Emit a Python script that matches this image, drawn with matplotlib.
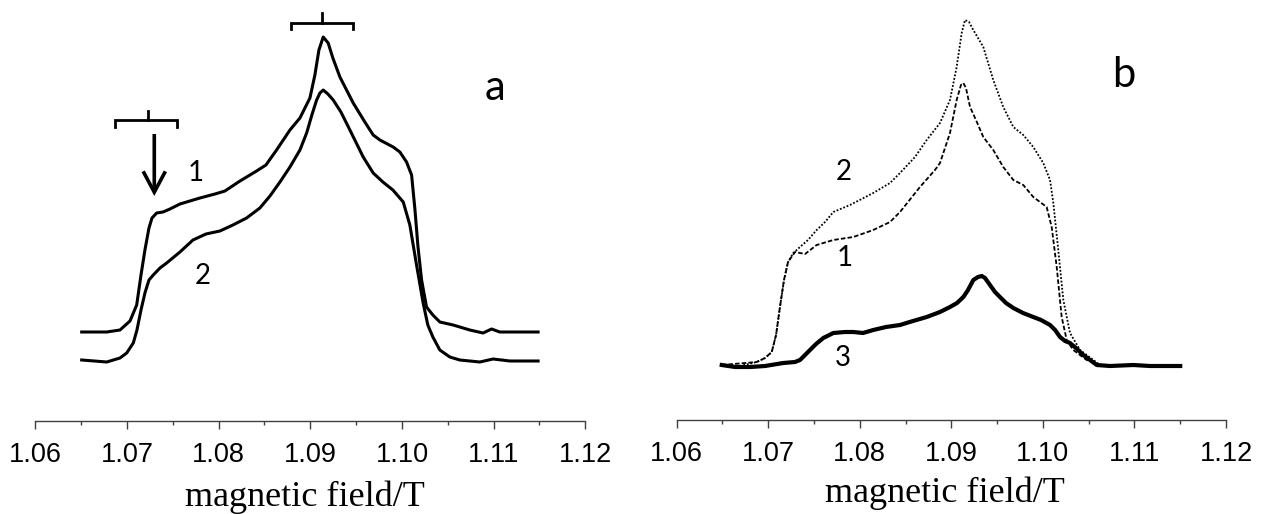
import matplotlib
matplotlib.use("Agg")
import matplotlib.pyplot as plt
import numpy as np

# ---------------- data (magnetic field / T, intensity a.u.) ----------------
a1_field = [1.06506, 1.06779, 1.06924, 1.07033, 1.07106, 1.07153, 1.07196, 1.07240,
            1.07273, 1.07324, 1.07393, 1.07469, 1.07578, 1.07796, 1.07960, 1.08069,
            1.08233, 1.08414, 1.08516, 1.08632, 1.08778, 1.08887, 1.08996, 1.09050,
            1.09094, 1.09141, 1.09195, 1.09246, 1.09323, 1.09468, 1.09595, 1.09686,
            1.09759, 1.09904, 1.09977, 1.10050, 1.10105, 1.10141, 1.10174, 1.10214,
            1.10268, 1.10337, 1.10413, 1.10558, 1.10740, 1.10885, 1.10977, 1.11067,
            1.11286, 1.11485]
a1_int = [89, 89, 91, 100, 116, 146, 171, 193,
          203, 208, 209, 212, 217, 223, 227, 230,
          240, 250, 256, 271, 291, 303, 323, 346,
          371, 384, 378, 363, 344, 318, 299, 286,
          281, 274, 269, 259, 246, 212, 175, 141,
          114, 106, 99, 96, 91, 88, 92, 89,
          89, 89]

a2_field = [1.06506, 1.06779, 1.06924, 1.06997, 1.07069, 1.07109, 1.07153, 1.07196,
            1.07240, 1.07287, 1.07360, 1.07433, 1.07578, 1.07720, 1.07862, 1.08014,
            1.08156, 1.08305, 1.08450, 1.08560, 1.08669, 1.08778, 1.08887, 1.08960,
            1.09017, 1.09069, 1.09105, 1.09141, 1.09192, 1.09250, 1.09334, 1.09432,
            1.09577, 1.09686, 1.09792, 1.09901, 1.10014, 1.10086, 1.10159, 1.10231,
            1.10282, 1.10337, 1.10413, 1.10522, 1.10631, 1.10740, 1.10849, 1.10994,
            1.11177, 1.11485]
a2_int = [61, 59, 63, 68, 78, 91, 111, 128,
          141, 146, 153, 158, 169, 181, 187, 190,
          196, 203, 213, 225, 239, 254, 271, 288,
          306, 321, 328, 331, 327, 321, 309, 291,
          264, 248, 239, 231, 219, 196, 156, 118,
          96, 84, 71, 64, 61, 60, 59, 62,
          60, 60]

b1_field = [1.06492, 1.06874, 1.06965, 1.07038, 1.07085, 1.07128, 1.07172, 1.07216,
            1.07292, 1.07347, 1.07402, 1.07529, 1.07711, 1.07929, 1.08147, 1.08330,
            1.08439, 1.08657, 1.08821, 1.08876, 1.08985, 1.09058, 1.09105, 1.09131,
            1.09160, 1.09204, 1.09269, 1.09349, 1.09458, 1.09567, 1.09677, 1.09786,
            1.09895, 1.10041, 1.10096, 1.10151, 1.10205, 1.10260, 1.10332, 1.10478,
            1.10624, 1.11170, 1.11498]
b1_int = [55, 58, 62, 68, 85, 113, 140, 158,
          168, 167, 166, 175, 180, 183, 190, 198,
          208, 233, 250, 257, 287, 320, 335, 337,
          332, 313, 300, 283, 270, 253, 240, 235,
          223, 213, 193, 153, 103, 80, 70, 60,
          55, 54, 54]

b2_field = [1.06492, 1.06691, 1.06874, 1.06965, 1.07038, 1.07085, 1.07128, 1.07172,
            1.07216, 1.07274, 1.07347, 1.07434, 1.07529, 1.07620, 1.07711, 1.07893,
            1.08147, 1.08330, 1.08439, 1.08603, 1.08731, 1.08876, 1.08985, 1.09058,
            1.09113, 1.09149, 1.09193, 1.09240, 1.09349, 1.09458, 1.09567, 1.09677,
            1.09786, 1.09895, 1.10004, 1.10078, 1.10114, 1.10168, 1.10223, 1.10296,
            1.10405, 1.10551, 1.10624, 1.10843, 1.11170, 1.11498]
b2_int = [55, 54, 58, 62, 68, 85, 113, 140,
          158, 167, 173, 180, 190, 198, 208, 215,
          227, 237, 247, 263, 280, 297, 320, 353,
          387, 400, 398, 390, 373, 340, 313, 293,
          285, 273, 257, 240, 217, 170, 120, 87,
          70, 60, 55, 54, 54, 54]

b3_field = [1.06492, 1.06637, 1.06801, 1.06965, 1.07164, 1.07292, 1.07347, 1.07402,
            1.07456, 1.07522, 1.07601, 1.07711, 1.07838, 1.07929, 1.08035, 1.08147,
            1.08286, 1.08439, 1.08581, 1.08731, 1.08876, 1.08985, 1.09062, 1.09131,
            1.09182, 1.09240, 1.09291, 1.09332, 1.09368, 1.09422, 1.09477, 1.09531,
            1.09597, 1.09677, 1.09783, 1.09895, 1.09980, 1.10078, 1.10133, 1.10187,
            1.10242, 1.10296, 1.10373, 1.10441, 1.10515, 1.10588, 1.10733, 1.10987,
            1.11170, 1.11334, 1.11500]
b3_int = [55, 53, 53, 54, 57, 58, 60, 65,
          70, 76, 82, 87, 88, 88, 87, 90,
          93, 95, 99, 103, 108, 113, 117, 123,
          130, 140, 143, 144, 142, 135, 128, 123,
          117, 112, 107, 103, 100, 95, 90, 83,
          79, 77, 71, 65, 60, 55, 54, 55,
          54, 54, 54]

tick_values = [1.06, 1.07, 1.08, 1.09, 1.10, 1.11, 1.12]
tick_labels = ["1.06", "1.07", "1.08", "1.09", "1.10", "1.11", "1.12"]
xlabel_text = "magnetic field/T"

# ---------------- figure ----------------
W, H = 1262, 514
fig = plt.figure(figsize=(W / 100, H / 100), dpi=100)

axA = fig.add_axes([35.3 / W, (H - 421) / H, 550 / W, 421 / H])
axB = fig.add_axes([676.7 / W, (H - 420) / H, 549.3 / W, 420 / H])

for ax, top in ((axA, 421), (axB, 420)):
    ax.set_xlim(1.06, 1.12)
    ax.set_ylim(0, top)
    for s in ("left", "right", "top"):
        ax.spines[s].set_visible(False)
    ax.spines["bottom"].set_color("#404040")
    ax.spines["bottom"].set_linewidth(1.0)
    ax.set_yticks([])
    ax.set_xticks(tick_values)
    ax.set_xticklabels(tick_labels, fontfamily="Liberation Sans", fontsize=19.5)
    ax.set_xticks(np.arange(1.065, 1.12, 0.01), minor=True)
    ax.tick_params(axis="x", which="major", length=6, width=1.0, color="#404040",
                   direction="out", pad=9)
    ax.tick_params(axis="x", which="minor", length=3, width=1.0, color="#404040",
                   direction="out")
    ax.patch.set_alpha(0)

# panel a
axA.plot(a1_field, a1_int, color="black", lw=2.2, solid_joinstyle="round")
axA.plot(a2_field, a2_int, color="black", lw=2.2, solid_joinstyle="round")

numfont = dict(fontfamily="Lato", fontsize=20, ha="center", va="center")
axA.text(1.07752, 248, "1", **numfont)
axA.text(1.07832, 145, "2", **numfont)
axA.text(1.11013, 333, "a", fontfamily="Lato", fontsize=30, ha="center", va="center")

# brackets
def bracket(ax, x0, x1, xc, y, drop, rise):
    ax.plot([x0, x0, x1, x1], [y - drop, y, y, y - drop], color="black", lw=2.0,
            solid_joinstyle="miter")
    ax.plot([xc, xc], [y, y + rise], color="black", lw=2.0)

bracket(axA, 1.06870, 1.07549, 1.07226, 301, 7, 9)
bracket(axA, 1.08785, 1.09468, 1.09130, 398, 6, 10)

axA.annotate("", xy=(1.07298, 225), xytext=(1.07298, 287),
             arrowprops=dict(arrowstyle="->,head_length=1.5,head_width=0.8",
                             color="black", lw=2.6, shrinkA=0, shrinkB=0,
                             joinstyle="miter", capstyle="butt"))

# panel b
axB.plot(b2_field, b2_int, color="black", lw=1.3, linestyle=(0, (1.0, 1.0)))
axB.plot(b1_field, b1_int, color="black", lw=1.3, linestyle=(0, (2.5, 1.2)))
axB.plot(b3_field, b3_int, color="black", lw=3.0, solid_joinstyle="round")

axB.text(1.07820, 248, "2", **numfont)
axB.text(1.07831, 162, "1", **numfont)
axB.text(1.07820, 62, "3", **numfont)
axB.text(1.10878, 345, "b", fontfamily="Lato", fontsize=30, ha="center", va="center")

# x labels
fig.text(185 / W, (H - 506) / H, xlabel_text, fontfamily="Liberation Serif",
         fontsize=26, ha="left", va="baseline")
fig.text(825 / W, (H - 502) / H, xlabel_text, fontfamily="Liberation Serif",
         fontsize=26, ha="left", va="baseline")

fig.savefig("out.png", dpi=100)
